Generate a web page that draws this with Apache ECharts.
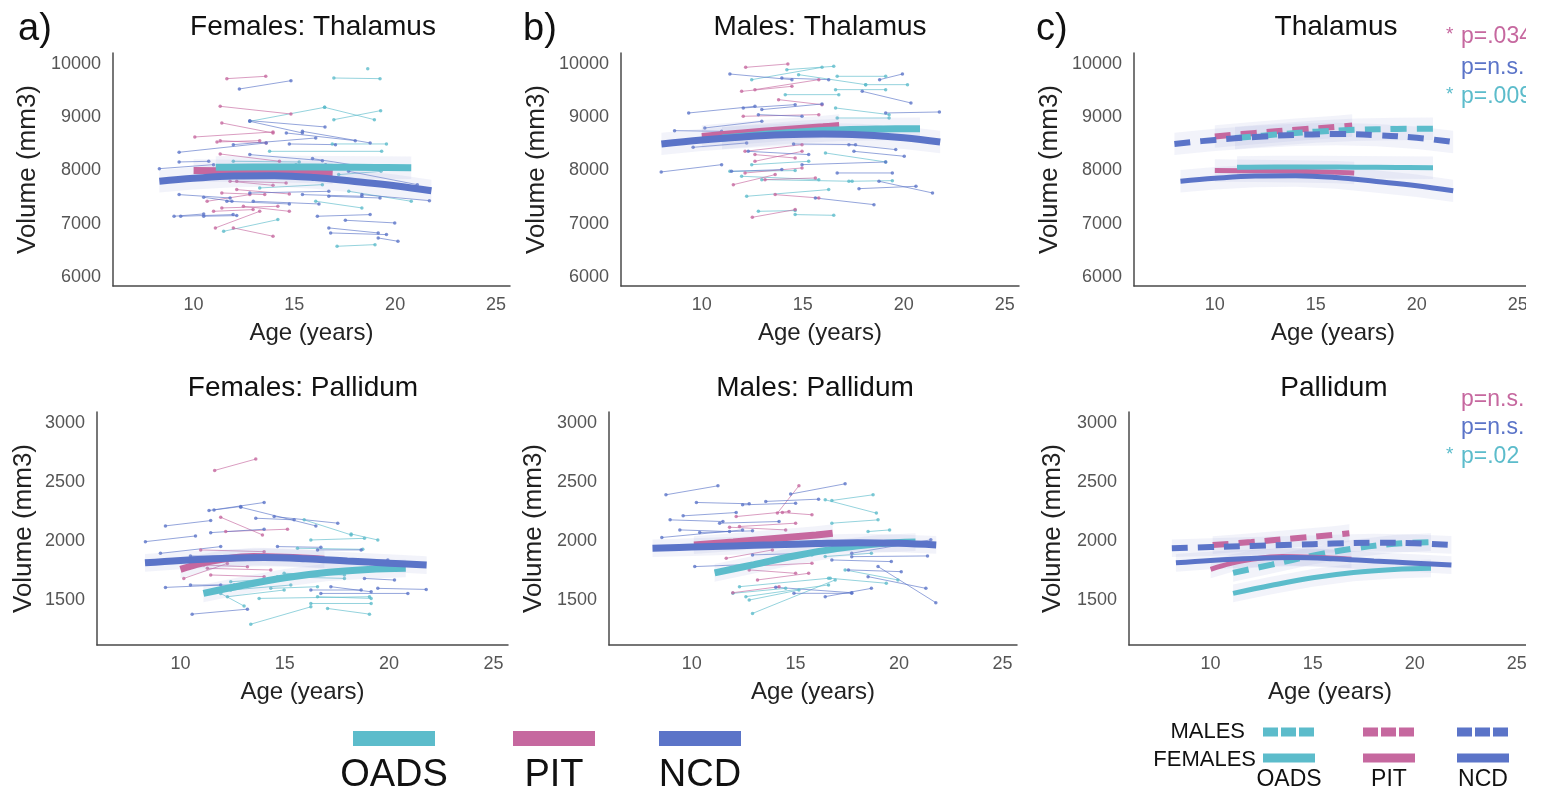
<!DOCTYPE html>
<html>
<head>
<meta charset="utf-8">
<title>Thalamus and pallidum volume by age</title>
<script src="https://cdn.jsdelivr.net/npm/echarts@6/dist/echarts.min.js"></script>
<style>
  html, body { margin: 0; padding: 0; background: #fff; }
  #chart { width: 1541px; height: 793px; }
</style>
</head>
<body>
<div id="chart"></div>
<script>
// values: age (years), volume (mm3)
// one subject per entry: [age1, vol1, age2, vol2]  (single scan -> [age, vol])
const thalF_OADS = [
  [16.96, 9731, 19.25, 9719], [18.64, 9906], [12.79, 8919, 16.5, 9181], [16.5, 9181, 18.97, 8950],
  [16.96, 8950, 19.28, 9119], [16.88, 8494, 19.57, 8494], [13.77, 8356, 19.33, 8356], [17.2, 7919, 19.3, 7981],
  [16.06, 7419, 18.35, 7294], [17.7, 7606, 20.8, 7419], [11.49, 6856, 14.18, 7075], [17.12, 6575, 19, 6606],
  [15.08, 8106, 17.69, 8013], [13.28, 7669, 16.39, 7731], [11.97, 8169, 15.24, 8156]
];
const thalF_PIT = [
  [11.65, 9719, 13.58, 9763], [11.32, 9200, 14.83, 9056], [11.4, 8888, 13.94, 8700], [10.06, 8625, 13.94, 8719],
  [11.32, 8556, 13.6, 8513], [11.32, 8306, 14.26, 8169], [10.67, 7419, 12.79, 7544], [12.14, 7638, 14.75, 7556],
  [11.08, 6919, 13.28, 7231], [11.4, 7294, 14.18, 7325], [11.97, 6919, 13.94, 6763], [12.14, 7794, 14.59, 7763],
  [10.99, 7231, 12.95, 7263], [11.16, 8531, 13.28, 8556], [11.4, 7575, 13.53, 7544], [12.47, 7325, 14.75, 7231],
  [11.81, 7794, 13.94, 7719]
];
const thalF_NCD = [
  [12.27, 9525, 14.83, 9681], [12.79, 8931, 16.52, 8813], [12.79, 8919, 15.4, 8700], [14.6, 8700, 18.02, 8556],
  [15.4, 8731, 18.76, 8513], [9.28, 8338, 13.6, 8513], [11.97, 8481, 16.06, 8606], [14.75, 8494, 17.04, 8481],
  [9.28, 8156, 10.75, 8169], [8.3, 8031, 10.99, 8106], [15.9, 8219, 18.35, 8075], [17.69, 7981, 21.1, 7731],
  [9.28, 7544, 11.81, 7481], [10.5, 7494, 11.9, 7419], [12.79, 7575, 16.71, 7606], [16.71, 7513, 19.25, 7481],
  [18.35, 7544, 21.7, 7431], [9.03, 7138, 10.5, 7181], [9.36, 7138, 11.96, 7169], [16.14, 7138, 18.76, 7169],
  [16.71, 6919, 19.16, 6825], [17.53, 7063, 19.98, 7013], [16.8, 6825, 19.57, 6794], [19.16, 6731, 20.14, 6669],
  [11.65, 7419, 14.75, 7369], [12.96, 7419, 16.22, 7369], [10.5, 7138, 12.14, 7150], [15.4, 7544, 18.35, 7513],
  [12.79, 8294, 16.39, 8181], [16.55, 8106, 19.16, 8013]
];

const thalM_OADS = [
  [14.21, 9888, 16.53, 9950], [12.47, 9700, 15.95, 9931], [16.7, 9763, 19.1, 9763], [18.11, 9606, 20.18, 9606],
  [14.13, 9419, 16.78, 9419], [16.62, 9513, 19.1, 9513], [16.7, 8981, 19.27, 8981], [16.12, 8325, 19.1, 8156],
  [11.39, 7981, 14.62, 7994], [11.97, 7888, 15.79, 7825], [12.97, 7825, 17.44, 7794], [12.22, 7513, 16.28, 7638],
  [12.8, 7231, 14.62, 7244], [14.62, 7169, 16.53, 7156], [14.79, 9794, 18.11, 9606], [16.62, 9169, 19.27, 9044],
  [12.47, 8106, 15.29, 8169], [17.28, 7794, 19.43, 7806]
];
const thalM_PIT = [
  [12.17, 9931, 14.26, 9994], [11.97, 9481, 14.46, 9575], [12.63, 9513, 15.79, 9700], [13.8, 9325, 15.95, 9231],
  [12.05, 9013, 15.79, 9044], [12.14, 8356, 14.96, 8481], [12.63, 8169, 14.96, 8356], [11.56, 7731, 13.63, 7919],
  [12.14, 7950, 14.96, 8044], [13.63, 7544, 15.79, 7481], [12.5, 7119, 14.62, 7263], [12.63, 8294, 14.62, 8231],
  [13.13, 7825, 15.62, 7856]
];
const thalM_NCD = [
  [11.39, 9806, 14.46, 9700], [13.96, 9731, 16.28, 9700], [18.8, 9700, 19.93, 9806], [17.94, 9481, 20.35, 9263],
  [9.35, 9075, 12.63, 9200], [12.05, 9169, 14.62, 9231], [12.97, 9138, 15.95, 9244], [19.1, 9075, 21.76, 9094],
  [10.15, 8794, 12.97, 8919], [8.65, 8744, 10.98, 8731], [9.57, 8431, 12.22, 8513], [14.54, 8494, 17.61, 8481],
  [17.28, 8481, 19.6, 8388], [17.53, 8356, 20.02, 8263], [7.99, 7969, 10.98, 8106], [16.7, 7950, 19.43, 7950],
  [17.78, 7656, 20.6, 7700], [18.77, 7794, 21.42, 7575], [15.62, 7481, 18.52, 7356], [12.8, 9044, 14.96, 9013],
  [12.3, 8356, 15.29, 8294], [14.96, 8106, 19.1, 8156], [11.47, 7981, 13.96, 8013]
];

const pallF_OADS = [
  [15.93, 2178, 18.18, 2051], [16.25, 2008, 18.82, 2022], [18.18, 2059, 19.46, 2008], [15.61, 1938, 18.74, 1929],
  [11.93, 1556, 13.05, 1449], [13.37, 1296, 16.25, 1443], [13.77, 1514, 19.06, 1528], [16.25, 1471, 19.14, 1471],
  [17.05, 1429, 19.06, 1381], [12.25, 1528, 14.97, 1585], [14.65, 1698, 17.86, 1683], [12.41, 1655, 14.81, 1683],
  [14.33, 1599, 16.57, 1613], [14.97, 1726, 17.86, 1712], [12.41, 1585, 15.29, 1627], [16.57, 1528, 19.14, 1514]
];
const pallF_PIT = [
  [11.64, 2596, 13.61, 2692], [11.93, 2200, 13.93, 2051], [12.17, 2079, 15.13, 2099], [10.97, 1924, 14.01, 1909],
  [10.16, 1683, 12.25, 1810], [11.29, 1768, 14.33, 1754], [11.45, 1712, 14.01, 1698], [11.13, 1839, 14.17, 1867],
  [11.13, 1796, 13.21, 1782]
];
const pallF_NCD = [
  [11.37, 2257, 14.01, 2325], [12.89, 2285, 16.49, 2127], [9.28, 2127, 11.45, 2172], [13.61, 2192, 15.45, 2178],
  [14.49, 2206, 17.54, 2150], [8.32, 1994, 10.72, 2042], [11.45, 2070, 14.01, 2099], [9.04, 1895, 11.93, 1952],
  [14.65, 1952, 16.73, 1946], [9.28, 1607, 11.93, 1627], [10.48, 1627, 12.57, 1627], [10.56, 1381, 13.21, 1423],
  [16.25, 1585, 18.66, 1585], [16.73, 1556, 20.9, 1556], [19.46, 1599, 21.78, 1590], [17.21, 1613, 19.14, 1570],
  [18.82, 1683, 20.26, 1669], [17.7, 1839, 19.94, 1839], [11.61, 2262, 12.89, 2291], [10.48, 1873, 12.89, 1867],
  [16.57, 1924, 18.66, 1924]
];

const pallM_OADS = [
  [16.76, 2342, 18.75, 2390], [16.44, 2348, 18.91, 2235], [16.76, 2150, 18.99, 2178], [18.51, 2079, 19.55, 2093],
  [11.98, 1755, 15.8, 1882], [17.4, 1755, 19.95, 1670], [12.3, 1613, 16.6, 1684], [12.61, 1529, 16.6, 1628],
  [12.77, 1500, 15.17, 1585], [12.93, 1387, 16.92, 1670], [16.68, 1684, 19.39, 1642], [16.44, 1868, 18.67, 1896],
  [11.98, 1557, 14.53, 1599]
];
const pallM_PIT = [
  [14.13, 2235, 15.17, 2466], [12.14, 2206, 14.69, 2249], [14.37, 2240, 15.8, 2221], [11.82, 2116, 14.53, 2093],
  [11.66, 1853, 13.89, 1924], [13.17, 1670, 15.64, 1726], [11.98, 1562, 14.21, 1613], [12.3, 2122, 15.01, 2150],
  [12.3, 1783, 15.8, 1811], [12.77, 1755, 15.01, 1726]
];
const pallM_NCD = [
  [8.75, 2390, 11.26, 2466], [14.77, 2396, 17.4, 2483], [10.22, 2325, 12.77, 2314], [13.57, 2334, 16.12, 2353],
  [9.58, 2212, 12.14, 2240], [8.95, 2178, 11.5, 2164], [11.34, 2150, 14.21, 2164], [9.42, 2093, 11.82, 2079],
  [8.55, 2029, 12.45, 2093], [10.38, 2071, 12.93, 2085], [10.14, 1783, 13.09, 1803], [16.76, 1839, 19.63, 1825],
  [17.72, 1867, 21.38, 1873], [17.72, 1896, 21.54, 2009], [18.99, 1783, 21.78, 1478], [18.51, 1698, 21.3, 1599],
  [14.05, 1608, 17.72, 1562], [14.93, 1557, 17.72, 1557], [12.45, 2305, 15.01, 2319], [12.93, 1882, 15.8, 1896],
  [17.56, 1755, 20.11, 1740], [16.44, 1529, 18.67, 1599]
];

// fitted group trajectories, [age, volume]
const fitThalF_OADS = [[11.1, 8055], [13, 8062], [15, 8062], [17, 8058], [19, 8052], [20.8, 8047]];
const fitThalF_PIT = [[10, 7995], [12, 7990], [14, 7980], [16, 7965], [16.9, 7950]];
const fitThalF_NCD = [[8.3, 7795], [10, 7850], [12, 7893], [14, 7900], [16, 7865], [18, 7790], [20, 7710], [21.8, 7615]];
const fitThalM_OADS = [[11, 8605], [13, 8670], [15, 8725], [17, 8760], [19, 8775], [20.8, 8780]];
const fitThalM_PIT = [[10, 8635], [12, 8700], [14, 8760], [16, 8815], [16.8, 8840]];
const fitThalM_NCD = [[8, 8495], [10, 8570], [12, 8625], [14, 8665], [16, 8680], [18, 8660], [20, 8610], [21.8, 8530]];
const fitPallF_OADS = [[11.1, 1556], [13, 1625], [15, 1688], [17, 1733], [19, 1758], [20.8, 1768]];
const fitPallF_PIT = [[10, 1760], [11, 1810], [12, 1845], [13.5, 1868], [15, 1862], [16.9, 1845]];
const fitPallF_NCD = [[8.3, 1815], [10, 1835], [12, 1852], [14, 1860], [16, 1850], [18, 1830], [20, 1812], [21.8, 1796]];
const fitPallM_OADS = [[11.1, 1730], [13, 1800], [15, 1875], [17, 1935], [19, 1975], [20.8, 1990]];
const fitPallM_PIT = [[10.1, 1965], [12, 1990], [14, 2020], [16, 2050], [16.8, 2065]];
const fitPallM_NCD = [[8.1, 1938], [10, 1948], [12, 1958], [14, 1967], [16, 1978], [18, 1985], [20, 1980], [21.8, 1966]];

const ageTicks = [10, 15, 20, 25];
const thalTicks = [6000, 7000, 8000, 9000, 10000];
const pallTicks = [1500, 2000, 2500, 3000];
const groups = ['OADS', 'PIT', 'NCD'];
const pThal = [['*', 'p=.034'], ['', 'p=n.s.'], ['*', 'p=.009']];
const pPall = [['', 'p=n.s.'], ['', 'p=n.s.'], ['*', 'p=.02']];

const colors = { OADS: '#5cbccb', PIT: '#c6689f', NCD: '#5b74c8' };
const FONT = '"Liberation Sans", Arial, Helvetica, sans-serif';

const chart = echarts.init(document.getElementById('chart'));

const grids = [
  { left: 113, top: 53, width: 397, height: 233 },
  { left: 621, top: 53, width: 398, height: 233 },
  { left: 1134, top: 53, width: 398, height: 233 },
  { left: 97, top: 412, width: 411, height: 233 },
  { left: 609, top: 412, width: 408, height: 233 },
  { left: 1129, top: 412, width: 402, height: 233 }
];
const yNameGap = [72, 71, 71, 60, 62, 63];

const axisLine = { lineStyle: { color: '#4a4a4a', width: 1.5 } };

const xAxis = grids.map((g, i) => ({
  gridIndex: i,
  type: 'value',
  min: 6,
  max: 25.7,
  name: 'Age (years)',
  nameLocation: 'middle',
  nameGap: 35,
  nameTextStyle: { fontSize: 24, color: '#222', fontFamily: FONT },
  axisLine: axisLine,
  axisTick: { show: false },
  splitLine: { show: false },
  axisLabel: { customValues: ageTicks, fontSize: 18, color: '#555', margin: 10, fontFamily: FONT }
}));

const yAxis = grids.map((g, i) => {
  const thal = i < 3;
  return {
    gridIndex: i,
    type: 'value',
    min: thal ? 5830 : 1120,
    max: thal ? 10200 : 3090,
    name: 'Volume (mm3)',
    nameLocation: 'middle',
    nameGap: yNameGap[i],
    nameTextStyle: { fontSize: 26, color: '#222', fontFamily: FONT },
    axisLine: axisLine,
    axisTick: { show: false },
    splitLine: { show: false },
    axisLabel: {
      customValues: thal ? thalTicks : pallTicks,
      formatter: v => String(v),
      fontSize: 18, color: '#555', margin: 12, fontFamily: FONT
    }
  };
});

function pts(s) {
  const out = [];
  for (let i = 0; i < s.length; i += 2) out.push([s[i], s[i + 1]]);
  return out;
}

function subjects(list, color, gi) {
  return list.map(s => ({
    type: 'line',
    xAxisIndex: gi,
    yAxisIndex: gi,
    data: pts(s),
    symbol: 'circle',
    symbolSize: 3.5,
    lineStyle: { color: color, width: 1, opacity: 0.65 },
    itemStyle: { color: color, opacity: 0.8 },
    silent: true,
    animation: false,
    z: 2
  }));
}

// confidence band around a fit, drawn as a polygon through the axis scales
function band(fit, hw, gi) {
  return {
    type: 'custom',
    xAxisIndex: gi,
    yAxisIndex: gi,
    silent: true,
    animation: false,
    z: 3,
    data: [fit[0]],
    renderItem: (params, api) => {
      const upper = fit.map(p => api.coord([p[0], p[1] + hw]));
      const lower = fit.slice().reverse().map(p => api.coord([p[0], p[1] - hw]));
      return {
        type: 'polygon',
        shape: { points: upper.concat(lower) },
        style: { fill: '#9aa6d6', opacity: 0.13 }
      };
    }
  };
}

function fitLine(fit, color, gi, width, dashed) {
  return {
    type: 'line',
    xAxisIndex: gi,
    yAxisIndex: gi,
    data: fit,
    smooth: 0.4,
    symbol: 'none',
    silent: true,
    animation: false,
    z: 5,
    lineStyle: { color: color, width: width, type: dashed ? [16, 10] : 'solid', cap: 'butt' }
  };
}

const series = [];
function spaghettiPanel(gi, sets, fits, hw) {
  groups.forEach((g, k) => series.push(...subjects(sets[k], colors[g], gi)));
  groups.forEach((g, k) => series.push(band(fits[k], hw, gi)));
  // draw PIT, OADS, NCD so NCD ends up on top
  [1, 0, 2].forEach(k => series.push(fitLine(fits[k], colors[groups[k]], gi, 7, false)));
}
function summaryPanel(gi, fitsF, fitsM, hw) {
  groups.forEach((g, k) => series.push(band(fitsM[k], hw, gi)));
  groups.forEach((g, k) => series.push(band(fitsF[k], hw, gi)));
  [1, 0, 2].forEach(k => series.push(fitLine(fitsM[k], colors[groups[k]], gi, 6, true)));
  [1, 0, 2].forEach(k => series.push(fitLine(fitsF[k], colors[groups[k]], gi, 5, false)));
}

const fThalF = [fitThalF_OADS, fitThalF_PIT, fitThalF_NCD];
const fThalM = [fitThalM_OADS, fitThalM_PIT, fitThalM_NCD];
const fPallF = [fitPallF_OADS, fitPallF_PIT, fitPallF_NCD];
const fPallM = [fitPallM_OADS, fitPallM_PIT, fitPallM_NCD];

spaghettiPanel(0, [thalF_OADS, thalF_PIT, thalF_NCD], fThalF, 210);
spaghettiPanel(1, [thalM_OADS, thalM_PIT, thalM_NCD], fThalM, 210);
summaryPanel(2, fThalF, fThalM, 210);
spaghettiPanel(3, [pallF_OADS, pallF_PIT, pallF_NCD], fPallF, 75);
spaghettiPanel(4, [pallM_OADS, pallM_PIT, pallM_NCD], fPallM, 75);
summaryPanel(5, fPallF, fPallM, 75);

// titles, panel letters, p-values, legends
function txt(text, x, y, size, fill, align) {
  return {
    type: 'text', x: x, y: y, z: 50, silent: true,
    style: { text: text, fontSize: size, fontFamily: FONT, fill: fill, align: align || 'center', verticalAlign: 'middle' }
  };
}
const graphic = [
  txt('a)', 18, 30, 38, '#111', 'left'),
  txt('b)', 523, 30, 38, '#111', 'left'),
  txt('c)', 1036, 30, 38, '#111', 'left'),
  txt('Females: Thalamus', 313, 27, 28, '#111'),
  txt('Males: Thalamus', 820, 27, 28, '#111'),
  txt('Thalamus', 1336, 27, 28, '#111'),
  txt('Females: Pallidum', 303, 388, 28, '#111'),
  txt('Males: Pallidum', 815, 388, 28, '#111'),
  txt('Pallidum', 1334, 388, 28, '#111')
];

const pColors = [colors.PIT, colors.NCD, colors.OADS];
const pRowsThal = [37, 68, 97];
const pRowsPall = [400, 428, 457];
[[pThal, pRowsThal], [pPall, pRowsPall]].forEach(([labels, rows]) => {
  labels.forEach((l, i) => {
    if (l[0]) graphic.push(txt(l[0], 1446, rows[i] - 2, 19, pColors[i], 'left'));
    graphic.push(txt(l[1], 1461, rows[i], 23, pColors[i], 'left'));
  });
});

// left legend
const legBarX = [353, 513, 659];
groups.forEach((g, k) => {
  graphic.push({ type: 'rect', z: 50, silent: true, shape: { x: legBarX[k], y: 731, width: 82, height: 15 }, style: { fill: colors[g] } });
  graphic.push(txt(g, legBarX[k] + 41, 776, 38, '#111'));
});

// right legend (males dashed, females solid)
const legSmallX = [1263, 1363, 1457];
graphic.push(txt('MALES', 1245, 732, 22, '#111', 'right'));
graphic.push(txt('FEMALES', 1256, 760, 22, '#111', 'right'));
groups.forEach((g, k) => {
  const x = legSmallX[k];
  graphic.push({ type: 'line', z: 50, silent: true, shape: { x1: x, y1: 732, x2: x + 52, y2: 732 }, style: { stroke: colors[g], lineWidth: 9, lineDash: [15, 3] } });
  graphic.push({ type: 'line', z: 50, silent: true, shape: { x1: x, y1: 758, x2: x + 52, y2: 758 }, style: { stroke: colors[g], lineWidth: 9 } });
  graphic.push(txt(g, x + 26, 780, 23, '#111'));
});

// the source figure is cropped at the right edge
graphic.push({ type: 'rect', z: 100, silent: true, shape: { x: 1526, y: 0, width: 20, height: 793 }, style: { fill: '#fff' } });

chart.setOption({
  backgroundColor: '#fff',
  animation: false,
  grid: grids,
  xAxis: xAxis,
  yAxis: yAxis,
  series: series,
  graphic: graphic
});
</script>
</body>
</html>
